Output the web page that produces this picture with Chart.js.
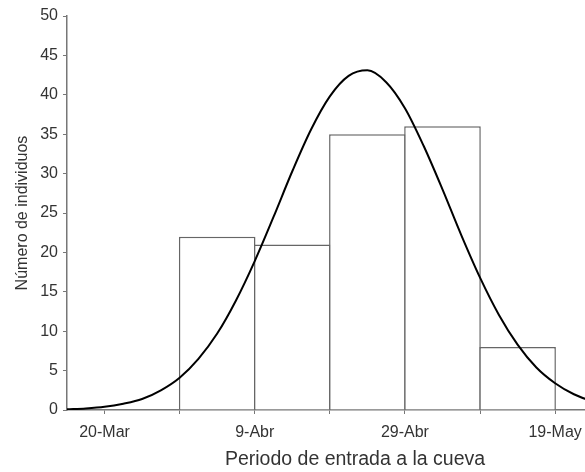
<!DOCTYPE html>
<html>
  <head>
    <title>Periodo de entrada a la cueva</title>
    <meta charset="UTF-8" />
    <style>
      html, body { margin: 0; padding: 0; background: #fff; overflow: hidden; }
      /* the plot runs on past the right edge of the picture, as in the source */
      #wrap { position: relative; width: 645px; height: 472px; }
    </style>
  </head>
  <body>
    <div id="wrap">
      <canvas id="histChart"></canvas>
    </div>
    <script src="https://cdn.jsdelivr.net/npm/chart.js@4.4.0/dist/chart.umd.min.js"></script>
    <script>
      // days counted from 20-Mar
      const binStart = [10, 20, 30, 40, 50];
      const binWidth = 10;
      const counts = [22, 21, 35, 36, 8];

      // fitted normal curve
      const curveDay = [-5, -2.5, 0, 2.5, 5, 7.5, 10, 12.5, 15, 17.5, 20, 22.5, 25, 27.5, 30, 32.5, 35,
        37.5, 40, 42.5, 45, 47.5, 50, 52.5, 55, 57.5, 60, 62.5, 65, 67.5, 70, 72.5];
      const curveValue = [0.1, 0.2, 0.4, 0.8, 1.4, 2.5, 4.1, 6.5, 9.7, 13.9, 18.9, 24.5, 30.3, 35.6, 39.8, 42.4, 43.1,
        41.6, 38.3, 33.5, 28.0, 22.2, 16.8, 12.1, 8.3, 5.4, 3.4, 2.0, 1.1, 0.6, 0.3, 0.15];

      const tickDays = [0, 10, 20, 30, 40, 50, 60, 70];
      const labelDays = [0, 20, 40, 60];
      const tickLabels = ["20-Mar", "9-Abr", "29-Abr", "19-May"];

      const bars = binStart.map((d, i) => ({ x: d + binWidth / 2, y: counts[i] }));
      const curve = curveDay.map((d, i) => ({ x: d, y: curveValue[i] }));

      const textColor = "#333";
      const axisColor = "#777";
      const fontFamily = "'Liberation Sans', Arial, sans-serif";

      const config = {
        type: "bar",
        data: {
          datasets: [
            {
              type: "line",
              data: curve,
              borderColor: "#000",
              borderWidth: 2,
              pointRadius: 0,
              cubicInterpolationMode: "monotone",
              fill: false,
              order: 0
            },
            {
              type: "bar",
              data: bars,
              backgroundColor: "#fff",
              borderColor: "#666",
              borderWidth: 1.5,
              barPercentage: 1.02,
              categoryPercentage: 1,
              order: 1
            }
          ]
        },
        options: {
          responsive: true,
          maintainAspectRatio: false,
          animation: false,
          layout: { padding: { left: 5, top: 16, right: 2, bottom: 0 } },
          plugins: {
            legend: { display: false },
            tooltip: { enabled: false }
          },
          scales: {
            x: {
              type: "linear",
              min: -5,
              max: 71.7,
              offset: false,
              afterBuildTicks: (axis) => {
                axis.ticks = tickDays.map((v) => ({ value: v }));
              },
              grid: {
                offset: false,
                drawOnChartArea: false,
                drawTicks: true,
                tickLength: 4,
                color: axisColor
              },
              border: { color: axisColor, width: 1.5 },
              ticks: {
                autoSkip: false,
                maxRotation: 0,
                padding: 9,
                color: textColor,
                font: { family: fontFamily, size: 16 },
                callback: (value) => {
                  const i = labelDays.indexOf(value);
                  return i >= 0 ? tickLabels[i] : "";
                }
              },
              title: {
                display: true,
                text: "Periodo de entrada a la cueva",
                color: textColor,
                font: { family: fontFamily, size: 19.5 },
                padding: { top: -3.6, bottom: 1 }
              }
            },
            y: {
              min: 0,
              max: 50,
              ticks: {
                stepSize: 5,
                padding: 5,
                color: textColor,
                font: { family: fontFamily, size: 16 }
              },
              grid: {
                drawOnChartArea: false,
                drawTicks: true,
                tickLength: 4,
                color: axisColor
              },
              border: { color: axisColor, width: 1.5 },
              title: {
                display: true,
                text: "Número de individuos",
                color: textColor,
                font: { family: fontFamily, size: 16 },
                padding: { top: 8, bottom: 3 }
              }
            }
          }
        }
      };

      new Chart(document.getElementById("histChart"), config);
    </script>
  </body>
</html>
